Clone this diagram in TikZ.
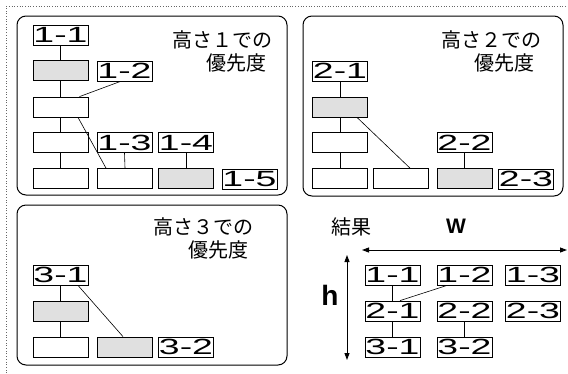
\documentclass[tikz,border=0pt]{standalone}
\usepackage{fontspec}
\usepackage{graphicx}
\setmainfont{Liberation Sans}
\newfontfamily\jp{Noto Sans CJK JP}
\usetikzlibrary{arrows.meta}
\newcommand\xlab[1]{\scalebox{1.7}[1]{#1}}
\tikzset{
  bx/.style={draw, line width=0.8pt, minimum width=55pt, minimum height=20pt, inner sep=0pt, fill=white},
  gbx/.style={bx, fill=black!12},
  lb/.style={bx, font=\fontsize{22}{22}\selectfont},
  panel/.style={draw, line width=1pt, rounded corners=9pt},
  ttl/.style={font=\jp\fontsize{20}{20}\selectfont, inner sep=0pt},
  cn/.style={line width=0.6pt},
  dbl/.style={line width=0.9pt, {Triangle[length=7pt,width=5pt]}-{Triangle[length=7pt,width=5pt]}}
}
\begin{document}
\begin{tikzpicture}[x=1pt,y=-1pt]
\useasboundingbox (0,0) rectangle (568,373);
% outer dotted frame
\draw[black!60, line width=0.7pt, dotted] (6,373) -- (6,6) -- (568,6);
% panels
\draw[panel] (17,16) rectangle (287,195);
\draw[panel] (303,16) rectangle (563,196);
\draw[panel] (17,205) rectangle (287,365);

% ---- panel 1
\node[ttl] (t1a) at (222,40) {高さ１での};
\node[ttl] (t1b) at (236,62.5) {優先度};
\node[lb] (a11) at (60.5,35) {\xlab{1-1}};
\node[gbx] (a2) at (60.5,70.5) {};
\node[lb] (a12) at (124.5,71) {\xlab{1-2}};
\node[bx] (a3) at (60.5,107) {};
\node[bx] (a4) at (60.5,142.5) {};
\node[lb] (a13) at (124.5,142.5) {\xlab{1-3}};
\node[lb] (a14) at (186,142.5) {\xlab{1-4}};
\node[bx] (a5a) at (60.5,178.5) {};
\node[bx] (a5b) at (125,178.5) {};
\node[gbx] (a5c) at (186,178.5) {};
\node[lb] (a15) at (249.5,179) {\xlab{1-5}};
\draw[cn] (a11.south) -- (a2.north);
\draw[cn] (a2.south) -- (a3.north);
\draw[cn] (a3.south) -- (a4.north);
\draw[cn] (a4.south) -- (a5a.north);
\draw[cn] ([xshift=-4pt]a12.south) -- ([xshift=19pt]a3.north);
\draw[cn] ([xshift=17.5pt]a3.south) -- ([xshift=-19pt]a5b.north);
\draw[cn] (a13.south) -- (a5b.north);
\draw[cn] (a14.south) -- (a5c.north);

% ---- panel 2
\node[ttl] (t2a) at (491,40) {高さ２での};
\node[ttl] (t2b) at (504.5,62.5) {優先度};
\node[lb] (b21) at (340,71) {\xlab{2-1}};
\node[gbx] (b2) at (340,107) {};
\node[bx] (b3) at (340,142.5) {};
\node[bx] (b4a) at (340,178.5) {};
\node[bx] (b4b) at (401,178.5) {};
\node[gbx] (b4c) at (464.5,178.5) {};
\node[lb] (b22) at (464.5,142.5) {\xlab{2-2}};
\node[lb] (b23) at (526,179) {\xlab{2-3}};
\draw[cn] (b21.south) -- (b2.north);
\draw[cn] (b2.south) -- (b3.north);
\draw[cn] (b3.south) -- (b4a.north);
\draw[cn] ([xshift=17pt]b2.south) -- ([xshift=9pt]b4b.north);
\draw[cn] (b22.south) -- (b4c.north);

% ---- panel 3
\node[ttl] (t3a) at (203.5,227) {高さ３での};
\node[ttl] (t3b) at (218.5,249.5) {優先度};
\node[lb] (c31) at (60.5,275) {\xlab{3-1}};
\node[gbx] (c2) at (60.5,311) {};
\node[bx] (c3a) at (60.5,347) {};
\node[gbx] (c3b) at (124.5,347) {};
\node[lb] (c32) at (186,347) {\xlab{3-2}};
\draw[cn] (c31.south) -- (c2.north);
\draw[cn] (c2.south) -- (c3a.north);
\draw[cn] ([xshift=17.5pt]c31.south) -- ([xshift=-1.5pt]c3b.north);

% ---- result
\node[ttl] (res) at (351,227) {結果};
\node[font=\fontsize{21}{21}\selectfont\bfseries, inner sep=0pt] (wl) at (456,226) {W};
\node[font=\fontsize{28}{28}\selectfont\bfseries, inner sep=0pt] (hl) at (330,295) {h};
\coordinate (wa) at (362,250);
\coordinate (wb) at (567,250);
\coordinate (ha) at (347,255);
\coordinate (hb) at (347,360);
\draw[dbl] (wa) -- (wb);
\draw[dbl] (ha) -- (hb);
\node[lb] (r11) at (392.5,275) {\xlab{1-1}};
\node[lb] (r12) at (464.5,275) {\xlab{1-2}};
\node[lb] (r13) at (533,275) {\xlab{1-3}};
\node[lb] (r21) at (392.5,311) {\xlab{2-1}};
\node[lb] (r22) at (464.5,311) {\xlab{2-2}};
\node[lb] (r23) at (533,311) {\xlab{2-3}};
\node[lb] (r31) at (392.5,347) {\xlab{3-1}};
\node[lb] (r32) at (464.5,347) {\xlab{3-2}};
\draw[cn] (r11.south) -- (r21.north);
\draw[cn] (r21.south) -- (r31.north);
\draw[cn] (r22.south) -- (r32.north);
\draw[cn] ([xshift=-17.5pt]r12.south) -- ([xshift=7.5pt]r21.north);
\end{tikzpicture}
\end{document}
